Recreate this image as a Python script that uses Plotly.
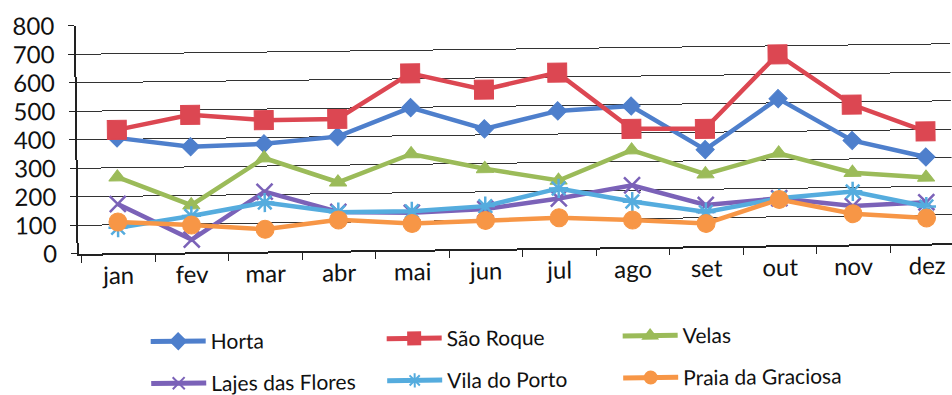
import plotly.graph_objects as go

# Monthly values per port
months = ["jan", "fev", "mar", "abr", "mai", "jun", "jul", "ago", "set", "out", "nov", "dez"]

horta = [405, 371, 378, 400, 499, 421, 481, 495, 339, 515, 365, 304]
sao_roque = [433, 483, 461, 462, 619, 559, 615, 415, 412, 670, 491, 394]
velas = [267, 166, 328, 240, 336, 281, 237, 340, 253, 323, 252, 232]
lajes_flores = [173, 45, 210, 136, 130, 140, 174, 217, 145, 165, 135, 145]
vila_porto = [90, 128, 172, 135, 135, 150, 209, 160, 120, 165, 186, 130]
praia_graciosa = [110, 96, 78, 108, 92, 100, 106, 95, 80, 161, 108, 90]

y_ticks = [0, 100, 200, 300, 400, 500, 600, 700, 800]

FONT = "Lato, 'Open Sans', sans-serif"

series = [
    ("Horta", horta, "#4E7FCC", "diamond", 14, "legend"),
    ("São Roque", sao_roque, "#DC4752", "square", 19, "legend"),
    ("Velas", velas, "#9BBB59", "triangle-up", 15, "legend"),
    ("Lajes das Flores", lajes_flores, "#7B62B8", "x-thin-open", 16, "legend2"),
    ("Vila do Porto", vila_porto, "#55ACDE", "asterisk-open", 16, "legend2"),
    ("Praia da Graciosa", praia_graciosa, "#F79646", "circle", 18, "legend2"),
]

fig = go.Figure()
for name, vals, color, symbol, size, leg in series:
    open_sym = symbol.endswith("open")
    fig.add_trace(go.Scatter(
        x=months, y=vals, name=name, mode="lines+markers",
        line=dict(color=color, width=4.5),
        marker=dict(symbol=symbol, size=size, color=color,
                    line=dict(color=color, width=2.5 if open_sym else 1)),
        legend=leg,
    ))

legend_common = dict(
    orientation="h", xref="container", yref="container",
    xanchor="left", yanchor="middle",
    font=dict(family=FONT, size=21, color="#111"),
    entrywidth=166, entrywidthmode="pixels",
    itemwidth=55, itemsizing="constant",
    bgcolor="rgba(0,0,0,0)", borderwidth=0,
)

fig.update_layout(
    width=952, height=395,
    margin=dict(l=78, r=0, t=21, b=146),
    paper_bgcolor="white", plot_bgcolor="white",
    font=dict(family=FONT, color="#111"),
    showlegend=True,
    legend=dict(x=144 / 952, y=1 - 338 / 395, **legend_common),
    legend2=dict(x=144 / 952, y=1 - 380 / 395, **legend_common),
    xaxis=dict(
        type="category", categoryorder="array", categoryarray=months,
        range=[-0.54, 11.35],
        showline=True, linecolor="#222", linewidth=1.6,
        ticks="outside", tickson="boundaries", ticklen=7, tickwidth=1.4,
        tickcolor="#222", showgrid=False,
        tickfont=dict(family=FONT, size=24, color="#111"),
    ),
    yaxis=dict(
        range=[0, 800], tickvals=y_ticks,
        showline=True, linecolor="#222", linewidth=1.8,
        ticks="outside", ticklen=6, tickwidth=1.4, tickcolor="#222",
        showgrid=True, gridcolor="#333", gridwidth=1.3,
        zeroline=False, ticklabelstandoff=9,
        tickfont=dict(family=FONT, size=24, color="#111"),
    ),
)

# the printed page sits at a slight tilt
tilt_js = (
    "var gd=document.getElementById('{plot_id}');"
    "document.body.style.margin='0';"
    "gd.style.transformOrigin='476px 197.5px';"
    "gd.style.transform='rotate(-0.69deg)';"
)

fig.write_html("out.html", post_script=tilt_js)
